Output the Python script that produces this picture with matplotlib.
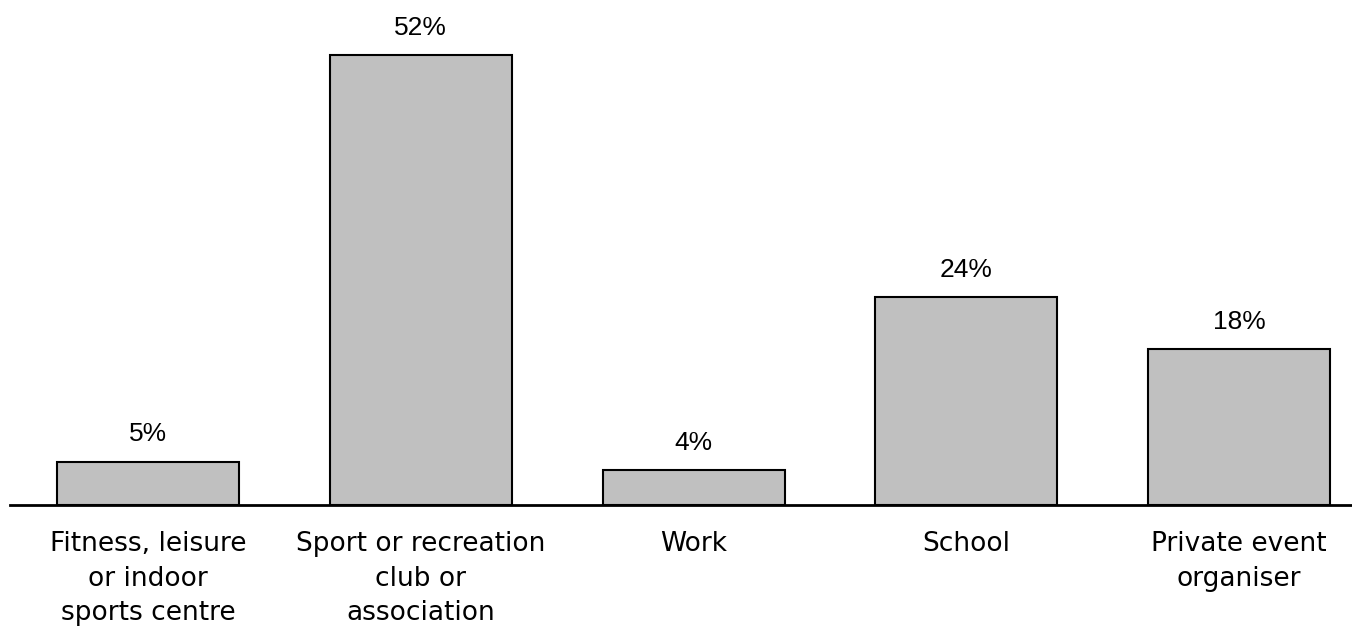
import numpy as np
import matplotlib.pyplot as plt

plt.rcParams['figure.dpi'] = 100
plt.rcParams['font.family'] = ['DejaVu Sans']

categories = ['Fitness, leisure\nor indoor\nsports centre',
              'Sport or recreation\nclub or\nassociation',
              'Work',
              'School',
              'Private event\norganiser']
values = [5, 52, 4, 24, 18]

fig = plt.figure(figsize=(13.52, 6.32))
ax = fig.add_axes([0, 0.201, 1, 0.799])

x = np.arange(len(categories))
bars = ax.bar(x, values, width=0.667, color='#c0c0c0', edgecolor='black', linewidth=1.5)

for xi, v in zip(x, values):
    ax.text(xi, v + 1.8, f'{v}%', ha='center', va='bottom', fontsize=19,
            family='Liberation Sans')

ax.set_xlim(-0.5426, 4.414)
ax.set_ylim(0, 58.4)

for s in ['top', 'right', 'left']:
    ax.spines[s].set_visible(False)
ax.spines['bottom'].set_linewidth(2)
ax.spines['bottom'].set_bounds(-0.506, 4.414)
ax.set_yticks([])
ax.set_xticks(x)
ax.set_xticklabels(categories, fontsize=19, linespacing=1.42)
ax.tick_params(axis='x', length=0, pad=19)

fig.savefig('out.png')
